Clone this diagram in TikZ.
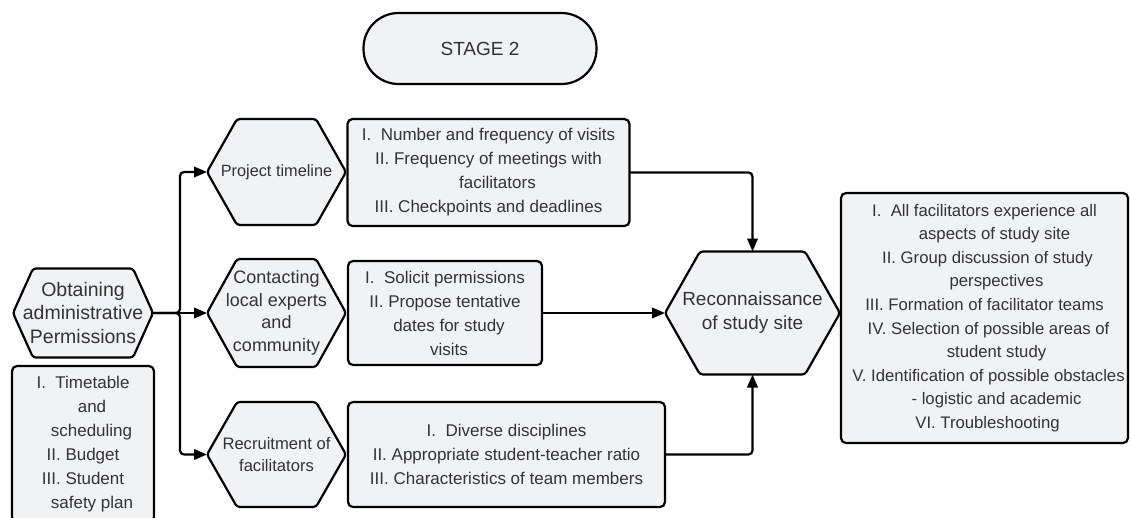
\documentclass[tikz,border=0pt]{standalone}
\usepackage{fontspec}
\setmainfont{Liberation Sans}
\usetikzlibrary{arrows.meta,backgrounds}
\definecolor{fillg}{HTML}{F1F2F4}
\definecolor{txt}{HTML}{333333}
\begin{document}
\begin{tikzpicture}[x=1pt,y=-1pt,
  conn/.style={line width=2.2pt, rounded corners=4pt, -{Triangle[length=13pt,width=10.5pt]}},
  hexline/.style={draw, line width=2.2pt, fill=fillg, rounded corners=3pt, line join=round},
  box/.style={draw, line width=2.2pt, fill=fillg, rounded corners=5pt, rectangle, inner sep=0pt, outer sep=0pt, align=center, text=txt, font=\fontsize{17}{24}\selectfont},
  hexn/.style={rectangle, inner sep=0pt, outer sep=0pt, align=center, text=txt}
]
\clip (0,0) rectangle (1131,517);
% stage title
\node[box, rounded corners=35pt, minimum width=233pt, minimum height=71pt, font=\fontsize{19}{24}\selectfont] (stage) at (480,48.5) {STAGE 2};
% hexagon nodes
\node[hexn, minimum width=140pt, minimum height=89pt, font=\fontsize{19.5}{23.5}\selectfont] (ob) at (83,313) {Obtaining\\administrative\\Permissions};
\node[hexn, minimum width=139pt, minimum height=106pt, font=\fontsize{16.3}{22}\selectfont] (pt) at (276.5,172) {Project timeline};
\node[hexn, minimum width=139pt, minimum height=108pt, font=\fontsize{18}{22.5}\selectfont] (ct) at (276.5,313) {Contacting\\local experts\\and\\community};
\node[hexn, minimum width=139pt, minimum height=105pt, font=\fontsize{16.6}{22}\selectfont] (rf) at (276.5,454.5) {Recruitment of\\facilitators};
\node[hexn, minimum width=175pt, minimum height=123pt, font=\fontsize{19}{24}\selectfont] (rc) at (752.5,313) {Reconnaissance\\of study site};
% boxes
\node[box, minimum width=142pt, minimum height=156pt] (lb) at (83,444) {I.\ \ Timetable\\\hspace*{18pt}and\\\hspace*{17pt}scheduling\\II. Budget\\III. Student\\\hspace*{18pt}safety plan};
\node[box, minimum width=282pt, minimum height=107pt] (b1) at (488.5,172.5) {I.\ \ Number and frequency of visits\\II. Frequency of meetings with\\\hspace*{18pt}facilitators\\III. Checkpoints and deadlines};
\node[box, minimum width=194pt, minimum height=104pt] (b2) at (445,313) {I.\ \ Solicit permissions\\II. Propose tentative\\\hspace*{8pt}dates for study\\\hspace*{8pt}visits};
\node[box, minimum width=317pt, minimum height=105pt] (b3) at (506.5,454.5) {I.\ \ Diverse disciplines\\II. Appropriate student-teacher ratio\\III. Characteristics of team members};
\node[box, minimum width=287pt, minimum height=250pt, font=\fontsize{16.7}{23.6}\selectfont] (rb) at (984.5,318) {I.\ \ All facilitators experience all\\\hspace*{20pt}aspects of study site\\\hspace*{6pt}II. Group discussion of study\\\hspace*{24pt}perspectives\\III. Formation of facilitator teams\\\hspace*{8pt}IV. Selection of possible areas of\\\hspace*{24pt}student study\\\hspace*{8pt}V. Identification of possible obstacles\\\hspace*{24pt}- logistic and academic\\\hspace*{6pt}VI. Troubleshooting};
% hexagon outlines
\begin{scope}[on background layer]
\foreach \n/\k in {ob/20,pt/30,ct/30,rf/30,rc/35} {
  \draw[hexline] ([xshift=\k*1pt]\n.north west) -- ([xshift=-\k*1pt]\n.north east) -- (\n.east) -- ([xshift=-\k*1pt]\n.south east) -- ([xshift=\k*1pt]\n.south west) -- (\n.west) -- cycle;
}
\end{scope}
% connectors
\draw[conn] (ob.east) -- ++(27,0) |- (pt.west);
\draw[conn] (ob.east) -- (ct.west);
\draw[conn] (ob.east) -- ++(27,0) |- (rf.west);
\draw[conn] (b1.east) -| (rc.north);
\draw[conn] (b2.east) -- (rc.west);
\draw[conn] (b3.east) -| (rc.south);
\end{tikzpicture}
\end{document}
